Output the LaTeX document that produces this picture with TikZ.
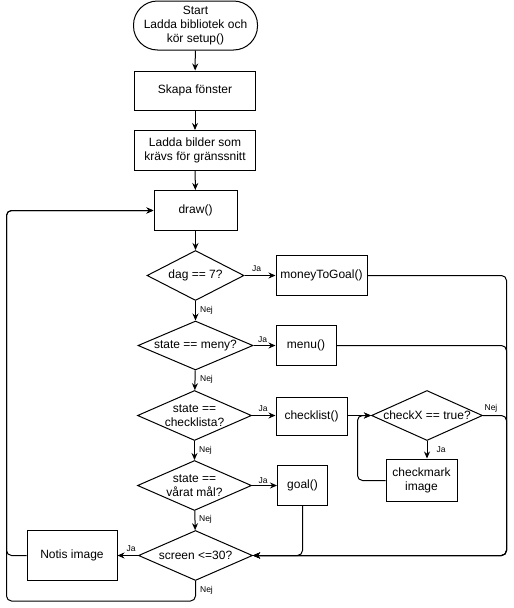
\documentclass[tikz,border=0pt]{standalone}
\usepackage{fontspec}
\setmainfont{Liberation Sans}
\usetikzlibrary{shapes.geometric,arrows.meta,calc}
\tikzset{
  base/.style={draw=black, line width=1pt, fill=white, font=\fontsize{12}{14}\selectfont, align=center, inner sep=0pt},
  box/.style={base, rectangle},
  term/.style={base, rectangle, rounded corners=24pt},
  dia/.style={base, diamond, aspect=1},
  dlbl/.style={font=\fontsize{12}{14}\selectfont, align=center, inner sep=0pt},
  lab/.style={font=\fontsize{8.5}{10}\selectfont, inner sep=0pt},
  conn/.style={draw=black, line width=1pt, rounded corners=5pt, -{Stealth[length=7pt,width=6pt]}},
}
\begin{document}
\begin{tikzpicture}[x=1pt,y=-1pt]
\useasboundingbox (0,0) rectangle (514,608);
% nodes
\node[term, minimum width=124, minimum height=49] (start) at (195.5,25.5) {Start\\Ladda bibliotek och\\kör setup()};
\node[box, minimum width=121, minimum height=39] (skapa) at (195,90.5) {Skapa fönster};
\node[box, minimum width=121, minimum height=40] (ladda) at (195,150.5) {Ladda bilder som\\krävs för gränssnitt};
\node[box, minimum width=83, minimum height=40] (draw) at (195.5,210.5) {draw()};
\node[dia, minimum width=97, minimum height=50, label={[dlbl]center:dag == 7?}] (d1) at (195.5,275.5) {};
\node[box, minimum width=91, minimum height=40] (m2g) at (321.5,275.5) {moneyToGoal()};
\node[dia, minimum width=115, minimum height=49, label={[dlbl]center:state == meny?}] (d2) at (195.5,345.5) {};
\node[box, minimum width=60, minimum height=40] (menu) at (306,345.5) {menu()};
\node[dia, minimum width=114, minimum height=50, label={[dlbl]center:{state ==\\checklista?}}] (d3) at (194.5,415.5) {};
\node[box, minimum width=71, minimum height=38] (chk) at (311.5,416) {checklist()};
\node[dia, minimum width=111, minimum height=50, label={[dlbl]center:checkX == true?}] (d5) at (427,415.5) {};
\node[box, minimum width=71, minimum height=42] (cm) at (421.5,480) {checkmark\\image};
\node[dia, minimum width=114, minimum height=50, label={[dlbl]center:{state ==\\vårat mål?}}] (d4) at (194.5,485.5) {};
\node[box, minimum width=50, minimum height=40] (goal) at (302.5,485.5) {goal()};
\node[dia, minimum width=114, minimum height=50, label={[dlbl]center:screen <=30?}] (scr) at (195.5,555.5) {};
\node[box, minimum width=90, minimum height=50] (notis) at (72,555.5) {Notis image};
% helper coordinates
\coordinate (rbus) at (506.5,555.5);
\coordinate (lbus) at (6.5,210.5);
\coordinate (loopx) at (357.5,480.5);
% vertical flow
\draw[conn] (start) -- (skapa);
\draw[conn] (skapa) -- (ladda);
\draw[conn] (ladda) -- (draw);
\draw[conn] (draw) -- (d1);
\draw[conn] (d1) -- (d2);
\draw[conn] (d2) -- (d3);
\draw[conn] (d3) -- (d4);
\draw[conn] (d4) -- (scr);
\draw[conn] (d5.south) -- (d5.south |- cm.north);
% yes branches
\draw[conn] (d1.east) -- (m2g.west);
\draw[conn] (d2.east) -- (d2.east -| menu.west);
\draw[conn] (d3.east) -- (d3.east -| chk.west);
\draw[conn] (d4.east) -- (d4.east -| goal.west);
\draw[conn] (chk.east |- d5.west) -- (d5.west);
\draw[conn] (cm.west |- loopx) -- (loopx) -- (loopx |- d5.west) -- (d5.west);
% right bus
\draw[conn] (m2g.east) -- (rbus |- m2g.east) -- (rbus) -- (scr.east);
\draw[conn] (menu.east) -- (rbus |- menu.east) -- (rbus) -- (scr.east);
\draw[conn] (d5.east) -- (rbus |- d5.east) -- (rbus) -- (scr.east);
\draw[conn] (goal.south) -- (goal.south |- scr.east) -- (scr.east);
% screen
\draw[conn] (scr.west) -- (notis.east);
\draw[conn] (notis.west) -- (lbus |- notis.west) -- (lbus) -- (draw.west);
\draw[conn] (scr.south) -- ($(scr.south)+(0,20)$) -- ($(lbus |- scr.south)+(0,20)$) -- (lbus) -- (draw.west);
% labels
\node[lab] (ja1) at ([shift={(12,-7)}]d1.east) {Ja};
\node[lab] (ja2) at ([shift={(9,-6)}]d2.east) {Ja};
\node[lab] (ja3) at ([shift={(11,-7)}]d3.east) {Ja};
\node[lab] (ja4) at ([shift={(11,-5)}]d4.east) {Ja};
\node[lab] (ja5) at ([shift={(14,9)}]d5.south) {Ja};
\node[lab] (ja6) at ([shift={(-7,-7)}]scr.west) {Ja};
\node[lab] (nej1) at ([shift={(11,9)}]d1.south) {Nej};
\node[lab] (nej2) at ([shift={(11,9)}]d2.south) {Nej};
\node[lab] (nej3) at ([shift={(11,9)}]d3.south) {Nej};
\node[lab] (nej4) at ([shift={(11,8)}]d4.south) {Nej};
\node[lab] (nej5) at ([shift={(8,-7)}]d5.east) {Nej};
\node[lab] (nej6) at ([shift={(11,9)}]scr.south) {Nej};
\end{tikzpicture}
\end{document}
